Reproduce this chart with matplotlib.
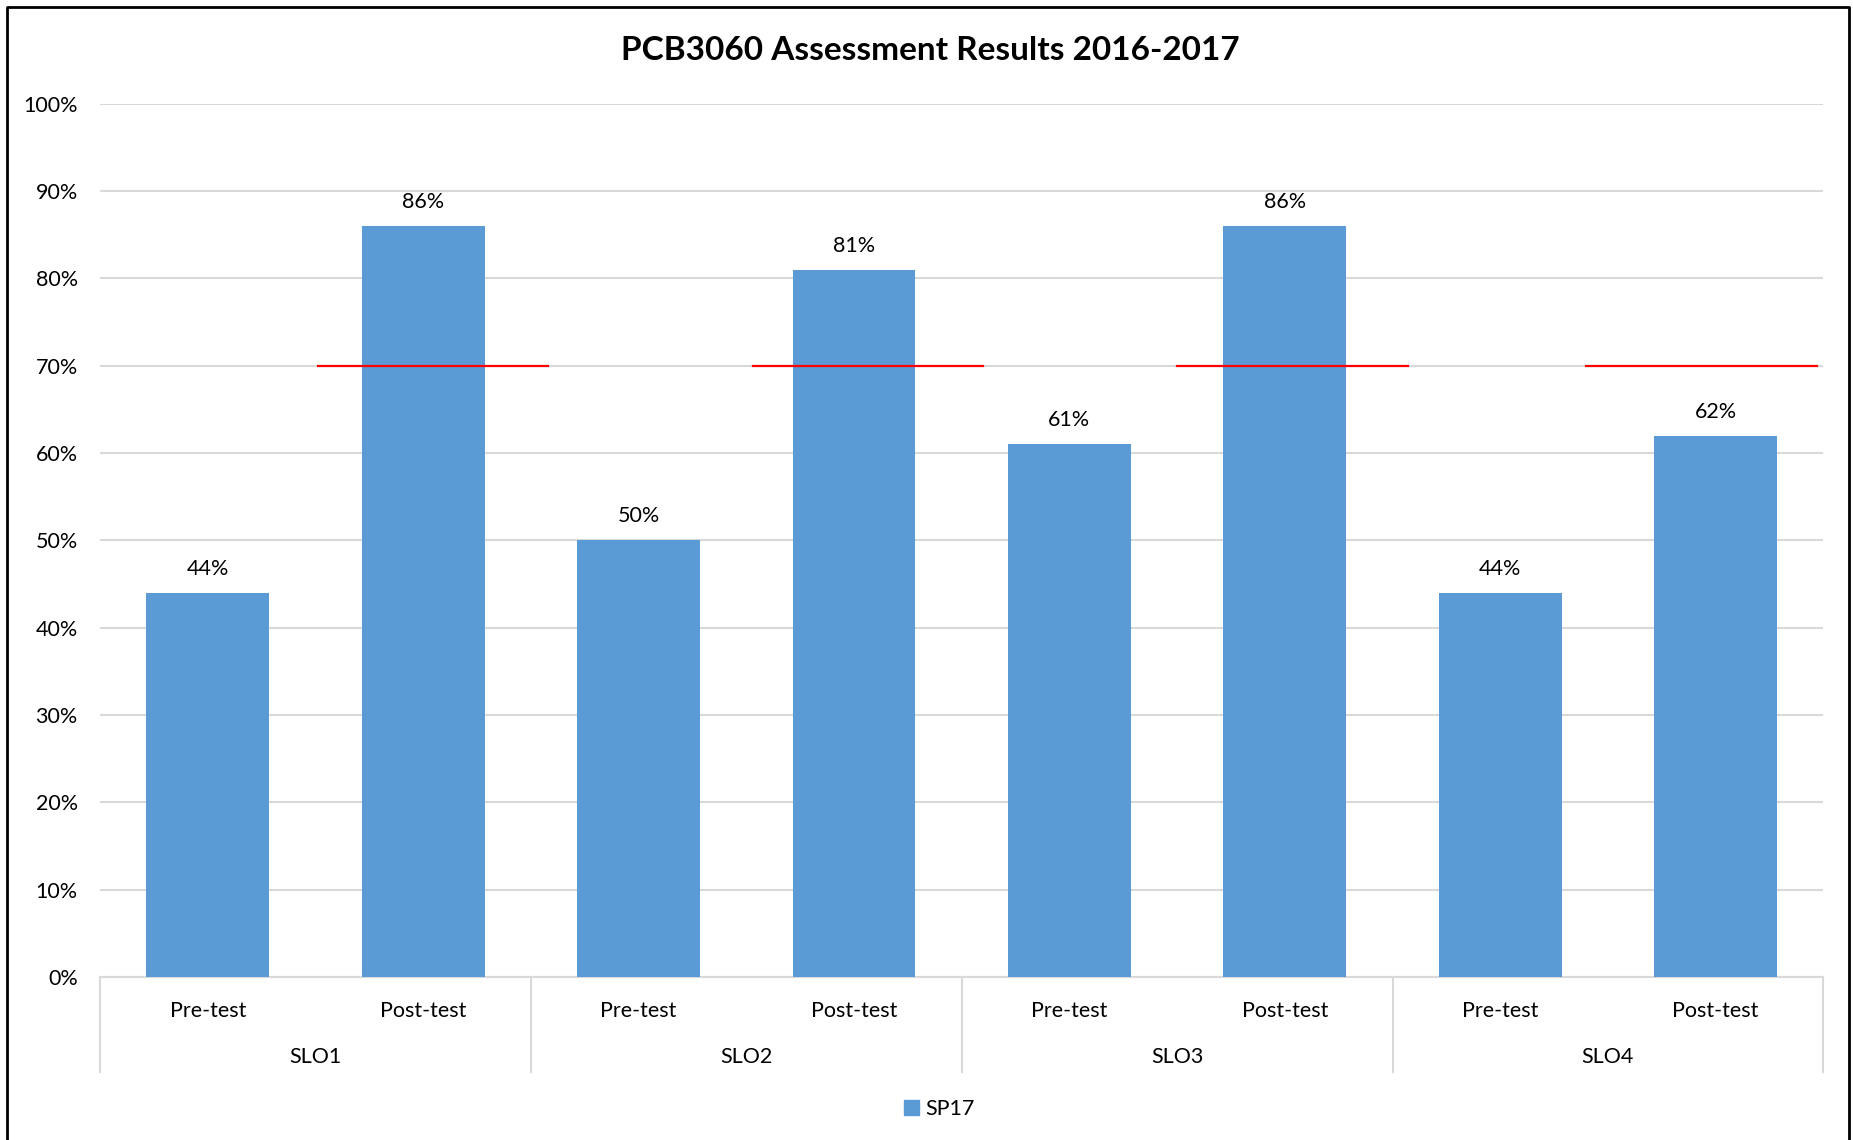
import matplotlib.pyplot as plt
import matplotlib.transforms as mtransforms
from matplotlib.patches import Rectangle
from matplotlib.lines import Line2D
import numpy as np

plt.rcParams["font.family"] = ["Lato", "DejaVu Sans"]

# ---------------------------------------------------------------------------
# Data
# ---------------------------------------------------------------------------
groups = ["SLO1", "SLO2", "SLO3", "SLO4"]
tests = ["Pre-test", "Post-test"]
sp17 = [44, 86, 50, 81, 61, 86, 44, 62]   # percent, pre/post per SLO
target = 70                                 # benchmark line for post-test
series_name = "SP17"

BAR_COLOR = "#5B9BD5"
GRID_COLOR = "#D9D9D9"
FS = 15.5

# target line spans (in bar-index units) as drawn in the original sheet
target_start = [0.51, 2.53, 4.50, 6.40]
target_len = 1.07

# ---------------------------------------------------------------------------
# Figure
# ---------------------------------------------------------------------------
fig = plt.figure(figsize=(18.53, 11.40), dpi=100)
ax = fig.add_axes([0.054, 0.143, 0.930, 0.766])

x = np.arange(len(sp17))
ax.bar(x, sp17, width=0.57, color=BAR_COLOR, zorder=3)

for xi, v in zip(x, sp17):
    ax.annotate(f"{v}%", (xi, v), textcoords="offset points", xytext=(0, 10),
                ha="center", va="bottom", fontsize=FS, color="#000000")

for s in target_start:
    ax.plot([s, s + target_len], [target, target], color="#FF0000",
            linewidth=1.6, zorder=4)

ax.set_xlim(-0.5, len(sp17) - 0.5)
ax.set_ylim(0, 100)
ax.set_yticks(np.arange(0, 101, 10))
ax.set_yticklabels([f"{t}%" for t in range(0, 101, 10)], fontsize=FS)
ax.yaxis.grid(True, color=GRID_COLOR, linewidth=1.5, zorder=0)
ax.tick_params(axis="y", length=0, pad=16)
ax.tick_params(axis="x", length=0)
ax.set_xticks([])
for side in ["top", "right", "left"]:
    ax.spines[side].set_visible(False)
ax.spines["bottom"].set_color(GRID_COLOR)
ax.spines["bottom"].set_linewidth(1.5)

# multi-level category axis
trans = mtransforms.blended_transform_factory(ax.transData, ax.transAxes)
for xi in x:
    ax.text(xi, -0.039, tests[xi % 2], transform=trans, ha="center", va="center",
            fontsize=FS)
for gi, g in enumerate(groups):
    ax.text(gi * 2 + 0.5, -0.092, g, transform=trans, ha="center", va="center",
            fontsize=FS)
for b in np.arange(-0.5, len(sp17), 2):
    ax.plot([b, b], [0, -0.109], transform=trans, color=GRID_COLOR,
            linewidth=1.5, clip_on=False)

fig.text(0.502, 0.956, "PCB3060 Assessment Results 2016-2017", fontsize=24,
         fontweight="bold", ha="center", va="center")

# legend
fig.legend(handles=[Rectangle((0, 0), 1, 1, color=BAR_COLOR)], labels=[series_name],
           loc="center", bbox_to_anchor=(0.507, 0.027), frameon=False,
           fontsize=FS, handlelength=0.7, handleheight=0.7, handletextpad=0.3)

# outer border (left, top, right only; bottom is cropped in the original)
fig.lines.append(Line2D([0.004, 0.004, 0.998, 0.998], [0.0, 0.994, 0.994, 0.0],
                        transform=fig.transFigure, color="black", linewidth=2))

fig.savefig("out.png", dpi=100)
